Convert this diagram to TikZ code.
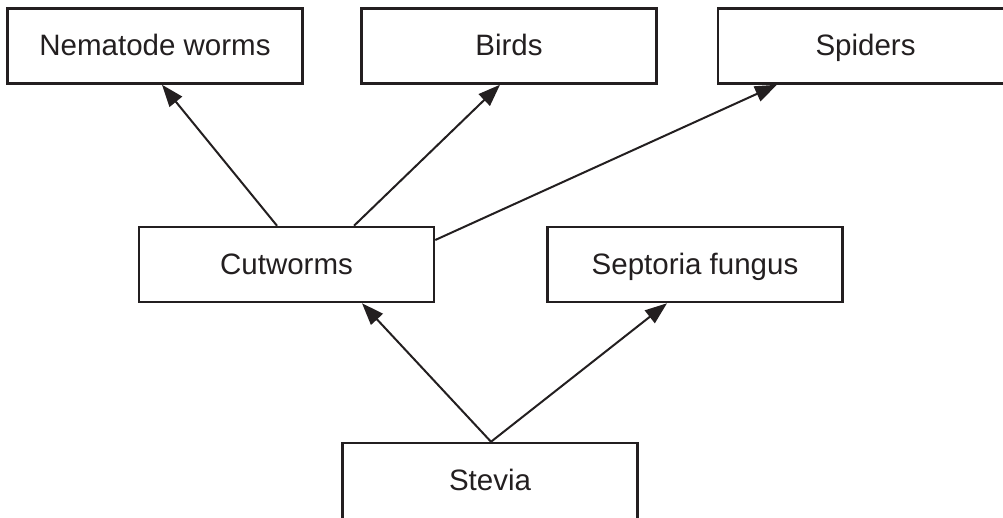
\documentclass[tikz,border=0pt]{standalone}
\usepackage{fontspec}
\setmainfont{Liberation Sans}
\usetikzlibrary{arrows.meta}
\definecolor{ink}{HTML}{231F20}
\begin{document}
\begin{tikzpicture}[x=1pt,y=-1pt,
  box/.style={draw=ink,line width=2.5pt,minimum width=295pt,minimum height=75pt,inner sep=0pt,text height=26pt,text depth=7pt,font=\fontsize{29.5}{34}\selectfont,text=ink},
  arr/.style={draw=ink,line width=2pt,-{Triangle[length=22pt,width=16pt]}}]
\useasboundingbox (0,0) rectangle (1003,517);
\node[box] (nem) at (155,46) {Nematode worms};
\node[box] (bir) at (509,46) {Birds};
\node[box] (spi) at (865.5,46) {Spiders};
\node[box] (cut) at (286.5,264.5) {Cutworms};
\node[box] (sep) at (695,264.5) {Septoria fungus};
\node[box,minimum height=80pt,text height=22pt] (ste) at (490,483) {Stevia};
\draw[arr] ([xshift=-9.5pt]cut.north) -- ([xshift=7pt]nem.south);
\draw[arr] ([xshift=67.5pt]cut.north) -- ([xshift=-9pt]bir.south);
\draw[arr] ([yshift=24.5pt]cut.east) -- ([xshift=-88.5pt]spi.south);
\draw[arr] ([xshift=1pt]ste.north) -- ([xshift=75.5pt]cut.south);
\draw[arr] ([xshift=1pt]ste.north) -- ([xshift=-28pt]sep.south);
\end{tikzpicture}
\end{document}
